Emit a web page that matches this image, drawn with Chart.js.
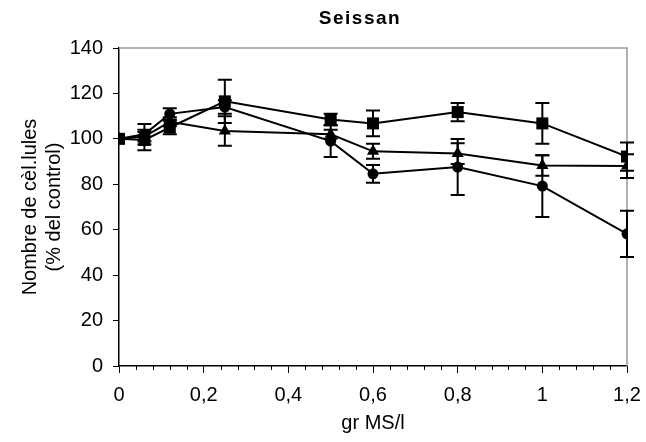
<!DOCTYPE html>
<html>
<head>
<meta charset="utf-8">
<script src="https://cdn.jsdelivr.net/npm/chart.js@4/dist/chart.umd.min.js"></script>
<style>
  html, body { margin: 0; padding: 0; background: #fff; }
  #wrap { width: 646px; height: 442px; }
</style>
</head>
<body>
<div id="wrap"><canvas id="chart-0" width="646" height="442"></canvas></div>
<script>
// doses (gr MS/l)
var doses = [0, 0.06, 0.12, 0.25, 0.5, 0.6, 0.8, 1, 1.2];

// % del control
var squareVals   = [100, 99.5, 105, 116.5, 108.5, 106.8, 111.8, 106.8, 92.2];
var squareErr    = [0, 4.5, 3, 9.5, 2.5, 5.7, 4, 9, 6.2];
var triangleVals = [100, 101, 107.5, 103.5, 102, 94.5, 93.5, 88.3, 88];
var triangleErr  = [0, 2, 2, 6.5, 2, 3.3, 4.6, 4.5, 5.2];
var circleVals   = [100, 102, 111, 114, 99, 84.6, 87.6, 79.2, 58.2];
var circleErr    = [0, 4.5, 2.5, 3, 7, 3.9, 12.3, 13.6, 10.2];

var yTicks = [0, 20, 40, 60, 80, 100, 120, 140];
var titleText = "Seissan";

var FONT = "Liberation Sans";

function toPoints(vals) {
    var pts = [];
    for (var i = 0; i < doses.length; i++) {
        pts.push({ x: doses[i], y: vals[i] });
    }
    return pts;
}

function isMajor(v) {
    var r = v / 0.2;
    return Math.abs(r - Math.round(r)) < 1e-6;
}

// error bars drawn with the chart's own scales
var errorBars = {
    id: "errorBars",
    afterDatasetsDraw: function(chart) {
        var ctx = chart.ctx;
        var xs = chart.scales.x, ys = chart.scales.y;
        ctx.save();
        ctx.strokeStyle = "#000";
        ctx.lineWidth = 2;
        chart.data.datasets.forEach(function(ds) {
            var errs = ds.errors;
            for (var i = 0; i < ds.data.length; i++) {
                if (!errs[i]) continue;
                var px = xs.getPixelForValue(ds.data[i].x);
                var top = ys.getPixelForValue(ds.data[i].y + errs[i]);
                var bot = ys.getPixelForValue(ds.data[i].y - errs[i]);
                ctx.beginPath();
                ctx.moveTo(px, top); ctx.lineTo(px, bot);
                ctx.moveTo(px - 7, top); ctx.lineTo(px + 7, top);
                ctx.moveTo(px - 7, bot); ctx.lineTo(px + 7, bot);
                ctx.stroke();
            }
        });
        ctx.restore();
    }
};

// grey frame on top/right, short minor ticks, title
var frame = {
    id: "frame",
    beforeDatasetsDraw: function(chart) {
        var a = chart.chartArea, ctx = chart.ctx;
        ctx.save();
        ctx.strokeStyle = "#999";
        ctx.lineWidth = 1.5;
        ctx.beginPath();
        ctx.moveTo(a.left, a.top); ctx.lineTo(a.right, a.top); ctx.lineTo(a.right, a.bottom);
        ctx.stroke();

        var xs = chart.scales.x;
        ctx.strokeStyle = "#000";
        ctx.lineWidth = 1;
        ctx.beginPath();
        xs.ticks.forEach(function(t) {
            if (isMajor(t.value)) return;
            var px = Math.round(xs.getPixelForValue(t.value)) + 0.5;
            ctx.moveTo(px, a.bottom); ctx.lineTo(px, a.bottom + 4);
        });
        ctx.stroke();

        ctx.fillStyle = "#000";
        ctx.font = "bold 19px '" + FONT + "'";
        ctx.textAlign = "center";
        ctx.textBaseline = "middle";
        if ("letterSpacing" in ctx) ctx.letterSpacing = "1.5px";
        ctx.fillText(titleText, (a.left + a.right) / 2 - 13, 19);
        ctx.restore();
    }
};

var ctx0 = document.getElementById("chart-0");
var myChart = new Chart(ctx0, {
    type: "line",
    data: {
        datasets: [
            { label: "circle", data: toPoints(circleVals), errors: circleErr,
              pointStyle: "circle", pointRadius: 5.5 },
            { label: "triangle", data: toPoints(triangleVals), errors: triangleErr,
              pointStyle: "triangle", pointRadius: 7 },
            { label: "square", data: toPoints(squareVals), errors: squareErr,
              pointStyle: "rect", pointRadius: 8.5 }
        ].map(function(d) {
            d.borderColor = "#000";
            d.backgroundColor = "#000";
            d.pointBackgroundColor = "#000";
            d.pointBorderColor = "#000";
            d.pointBorderWidth = 0;
            d.borderWidth = 2;
            d.fill = false;
            d.tension = 0;
            return d;
        })
    },
    options: {
        responsive: false,
        animation: false,
        layout: { padding: { top: 48, right: 19, left: 6, bottom: 0 } },
        plugins: {
            legend: { display: false },
            tooltip: { enabled: false },
            title: { display: false }
        },
        scales: {
            x: {
                type: "linear",
                min: 0,
                max: 1.2,
                border: { color: "#000", width: 1.5 },
                grid: {
                    drawOnChartArea: false,
                    tickLength: 7,
                    lineWidth: 1,
                    color: function(c) { return c.tick && isMajor(c.tick.value) ? "#000" : "rgba(0,0,0,0)"; }
                },
                afterFit: function(axis) {
                    axis.height = 76;
                    axis.paddingRight = 0;
                    axis.paddingLeft = 0;
                },
                ticks: {
                    stepSize: 0.04,
                    autoSkip: false,
                    maxRotation: 0,
                    color: "#000",
                    padding: 10,
                    font: { family: FONT, size: 20 },
                    callback: function(v) {
                        if (!isMajor(v)) return "";
                        var r = Math.round(v * 10) / 10;
                        return String(r).replace(".", ",");
                    }
                },
                title: {
                    display: true,
                    text: "gr MS/l",
                    color: "#000",
                    font: { family: FONT, size: 20 },
                    padding: { top: 0, bottom: 7 }
                }
            },
            y: {
                min: 0,
                max: 140,
                border: { color: "#000", width: 1.5 },
                grid: { drawOnChartArea: false, tickLength: 6, color: "#000", lineWidth: 1 },
                afterBuildTicks: function(axis) {
                    axis.ticks = yTicks.map(function(v) { return { value: v }; });
                },
                afterFit: function(axis) { axis.width = 113; },
                ticks: {
                    color: "#000",
                    padding: 10,
                    font: { family: FONT, size: 20 }
                },
                title: {
                    display: true,
                    text: ["Nombre de cèl.lules", "(% del control)"],
                    color: "#000",
                    font: { family: FONT, size: 20 },
                    padding: { top: 12, bottom: 0 }
                }
            }
        }
    },
    plugins: [frame, errorBars]
});
</script>
</body>
</html>
